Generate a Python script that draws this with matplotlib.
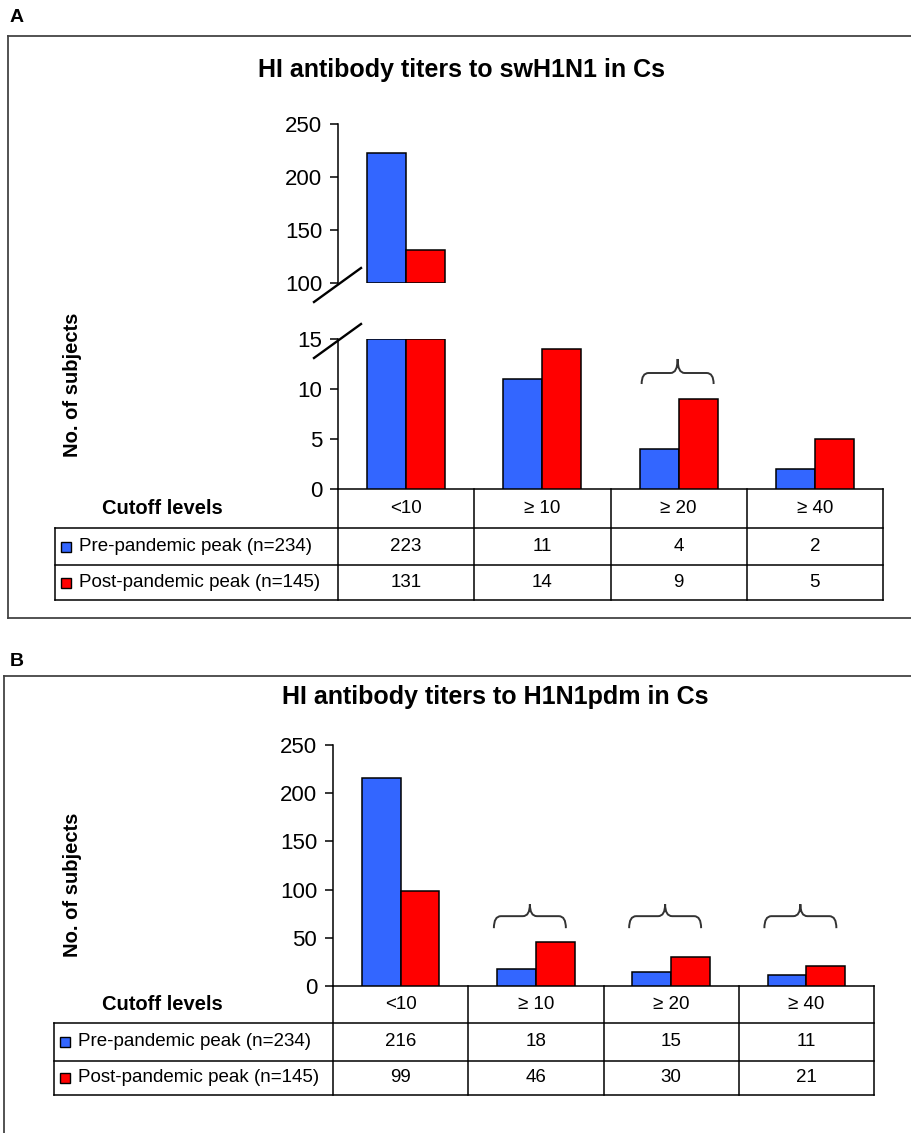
import matplotlib
matplotlib.use("Agg")
import matplotlib.pyplot as plt
from matplotlib.patches import Rectangle, PathPatch
from matplotlib.path import Path

plt.rcParams['font.family'] = ['Liberation Sans', 'DejaVu Sans']

W, H = 911, 1133

# data
cutoffs = ['<10', '≥ 10', '≥ 20', '≥ 40']
series_names = ['Pre-pandemic peak (n=234)', 'Post-pandemic peak (n=145)']
colors = ['#3366ff', '#ff0000']

sw_pre = [223, 11, 4, 2]
sw_post = [131, 14, 9, 5]
sw_braces = [2]

pdm_pre = [216, 18, 15, 11]
pdm_post = [99, 46, 30, 21]
pdm_braces = [1, 2, 3]

BAR_W = 0.287
TICK_FS = 16
TABLE_FS = 13.5


def add_ax(fig, x0, y0, x1, y1):
    # pixel box (top-left origin) -> figure fraction
    ax = fig.add_axes([x0 / W, 1 - y1 / H, (x1 - x0) / W, (y1 - y0) / H])
    ax.patch.set_alpha(0)
    return ax


def style_axis(ax, ticks, bottom=True):
    for s in ['top', 'right']:
        ax.spines[s].set_visible(False)
    ax.spines['bottom'].set_visible(bottom)
    for s in ['left', 'bottom']:
        ax.spines[s].set_linewidth(1.1)
    ax.set_xlim(0, 4)
    ax.set_xticks([])
    ax.set_yticks(ticks)
    ax.tick_params(axis='y', length=5.5, width=1.1, pad=6, labelsize=TICK_FS)


def draw_bars(ax, pre, post, base=0):
    x = [i + 0.5 for i in range(len(pre))]
    for vals, off, c in [(pre, -BAR_W / 2, colors[0]), (post, BAR_W / 2, colors[1])]:
        xs = [xi + off for xi, v in zip(x, vals) if v > base]
        hs = [v - base for v in vals if v > base]
        ax.bar(xs, hs, width=BAR_W, bottom=base, color=c,
               edgecolor='black', linewidth=1.1, zorder=3)


def brace(ov, xc, yt, hw=36, r=7, rise=12, peak=14):
    xl, xr = xc - hw, xc + hw
    yh = yt - rise
    yp = yh - peak
    verts = [(xl, yt), (xl, yh), (xl + r, yh), (xc - r, yh), (xc, yh), (xc, yp),
             (xc, yh), (xc + r, yh), (xr - r, yh), (xr, yh), (xr, yt)]
    codes = [Path.MOVETO, Path.CURVE3, Path.CURVE3, Path.LINETO, Path.CURVE3, Path.CURVE3,
             Path.CURVE3, Path.CURVE3, Path.LINETO, Path.CURVE3, Path.CURVE3]
    ov.add_patch(PathPatch(Path(verts, codes), fill=False, edgecolor='#333333', lw=1.4))


def draw_table(ov, xl, x0, x1, rows, pre, post):
    lw = 1.1
    edges = [x0 + (x1 - x0) * i / 4 for i in range(5)]
    for xe in edges:
        ov.plot([xe, xe], [rows[0], rows[3]], color='black', lw=lw)
    ov.plot([xl, xl], [rows[1], rows[3]], color='black', lw=lw)
    for r in rows[1:]:
        ov.plot([xl, x1], [r, r], color='black', lw=lw)
    for i, lab in enumerate(cutoffs):
        xc = (edges[i] + edges[i + 1]) / 2
        ov.text(xc, (rows[0] + rows[1]) / 2, lab, ha='center', va='center', fontsize=TABLE_FS)
        ov.text(xc, (rows[1] + rows[2]) / 2, str(pre[i]), ha='center', va='center', fontsize=TABLE_FS)
        ov.text(xc, (rows[2] + rows[3]) / 2, str(post[i]), ha='center', va='center', fontsize=TABLE_FS)
    for k, (name, c) in enumerate(zip(series_names, colors)):
        yc = (rows[k + 1] + rows[k + 2]) / 2
        ov.add_patch(Rectangle((xl + 6, yc - 5), 10, 10, facecolor=c, edgecolor='black', lw=1.0))
        ov.text(xl + 24, yc, name, ha='left', va='center', fontsize=TABLE_FS)
    ov.text(162, (rows[0] + rows[1]) / 2, 'Cutoff levels', ha='center', va='center',
            fontsize=14.5, fontweight='bold')
    return edges


fig = plt.figure(figsize=(W / 100, H / 100), dpi=100)
ov = fig.add_axes([0, 0, 1, 1])
ov.set_xlim(0, W)
ov.set_ylim(H, 0)
ov.axis('off')

# ---------------- panel A ----------------
ov.text(10, 18, 'A', fontsize=14, fontweight='bold', va='center')
ov.plot([8, W + 5], [36, 36], color='#444444', lw=1.3)
ov.plot([8, 8], [36, 618], color='#444444', lw=1.3)
ov.plot([8, W + 5], [618, 618], color='#444444', lw=1.3)
ov.text(461, 70, 'HI antibody titers to swH1N1 in Cs', ha='center', va='center',
        fontsize=18, fontweight='bold')
ov.text(73, 385, 'No. of subjects', rotation=90, ha='center', va='center',
        fontsize=14.5, fontweight='bold')

ax_hi = add_ax(fig, 338, 124, 883, 283)
ax_hi.set_ylim(100, 250)
style_axis(ax_hi, [100, 150, 200, 250], bottom=False)
draw_bars(ax_hi, sw_pre, sw_post, base=100)

ax_lo = add_ax(fig, 338, 339, 883, 489)
ax_lo.set_ylim(0, 15)
style_axis(ax_lo, [0, 5, 10, 15])
draw_bars(ax_lo, [min(v, 15) for v in sw_pre], [min(v, 15) for v in sw_post])

# axis break marks
for yb in [283, 339]:
    ov.plot([314, 361], [yb + 19, yb - 15], color='black', lw=1.7)

edges = draw_table(ov, 55, 338, 883, [489, 528, 565, 600], sw_pre, sw_post)
for g in sw_braces:
    xc = (edges[g] + edges[g + 1]) / 2 - 1
    yt = 489 - 10.5 * (489 - 339) / 15
    brace(ov, xc, yt, hw=36, rise=11, peak=14)

# ---------------- panel B ----------------
ov.text(10, 662, 'B', fontsize=14, fontweight='bold', va='center')
ov.plot([4, W + 5], [676, 676], color='#444444', lw=1.3)
ov.plot([4, 4], [676, H + 5], color='#444444', lw=1.3)
ov.text(495, 697, 'HI antibody titers to H1N1pdm in Cs', ha='center', va='center',
        fontsize=18, fontweight='bold')
ov.text(73, 885, 'No. of subjects', rotation=90, ha='center', va='center',
        fontsize=14.5, fontweight='bold')

ax_b = add_ax(fig, 333, 745, 874, 986)
ax_b.set_ylim(0, 250)
style_axis(ax_b, [0, 50, 100, 150, 200, 250])
draw_bars(ax_b, pdm_pre, pdm_post)

edges = draw_table(ov, 54, 333, 874, [986, 1023, 1061, 1095], pdm_pre, pdm_post)
for g in pdm_braces:
    xc = (edges[g] + edges[g + 1]) / 2 - 6
    yt = 986 - 60 * (986 - 745) / 250
    brace(ov, xc, yt, hw=36, rise=12, peak=12)

fig.savefig('out.png', dpi=100)
